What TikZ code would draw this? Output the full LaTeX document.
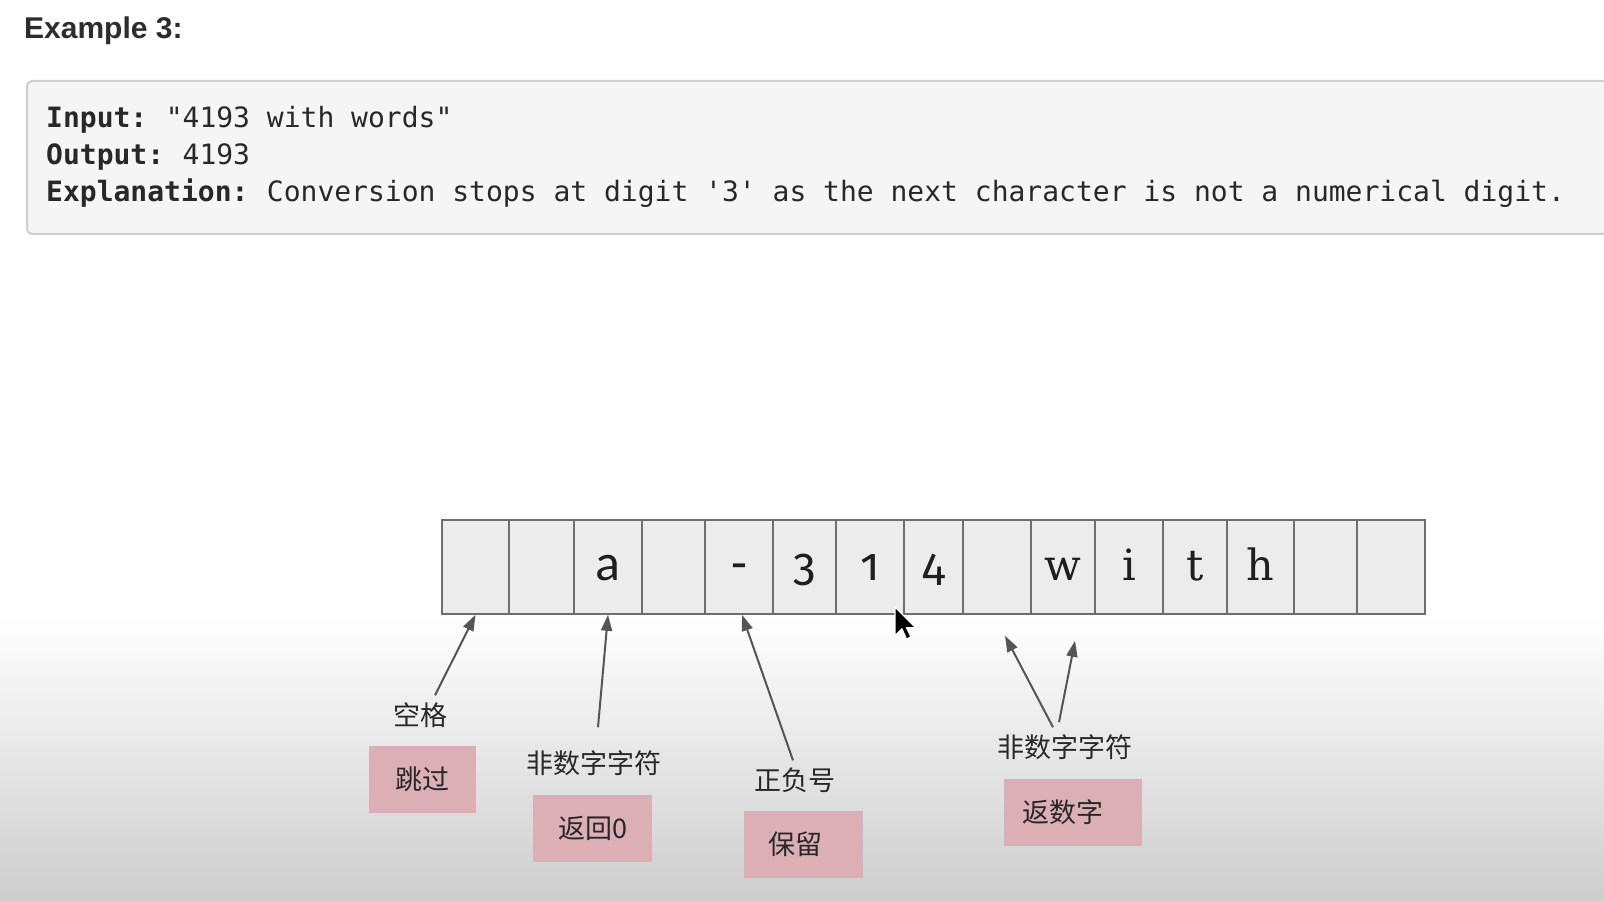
\documentclass[tikz,border=0pt]{standalone}
\usepackage{fontspec}
\newfontfamily\cjk{Noto Sans CJK SC}
\newfontfamily\codefont{DejaVu Sans Mono}
\newfontfamily\titlefont{Liberation Sans}
\newfontfamily\sansfnt{Carlito}
\newfontfamily\digitfont[Numbers=OldStyle]{Fira Sans}
\newfontfamily\slabfont{DejaVu Serif}
\usetikzlibrary{arrows.meta}
\definecolor{pinkbox}{RGB}{220,174,182}
\definecolor{cellfill}{RGB}{236,236,236}
\definecolor{cellline}{RGB}{110,110,110}
\definecolor{arrowgray}{RGB}{85,85,85}
\definecolor{codebg}{RGB}{245,245,245}
\definecolor{codeline}{RGB}{206,206,206}
\definecolor{inkdark}{RGB}{40,40,40}
\newcommand\cellsans[1]{{\sansfnt\fontsize{52}{52}\selectfont #1}}
\newcommand\osn[1]{{\digitfont\fontsize{46}{46}\selectfont #1}}
\newcommand\cellslab[1]{{\slabfont\fontsize{43}{43}\selectfont #1}}
\tikzset{
  cell/.style={draw=cellline, fill=cellfill, line width=1.6pt, minimum height=94pt,
    inner sep=0pt, text height=28pt, text depth=0pt, text=black!88},
  lbl/.style={font=\cjk\fontsize{27}{30}\selectfont, text=inkdark, inner sep=0pt},
  pbox/.style={fill=pinkbox, minimum height=67pt, inner sep=0pt,
    font=\cjk\fontsize{27}{30}\selectfont, text=inkdark},
  arr/.style={draw=arrowgray, line width=2pt, -{Triangle[length=16pt,width=11pt]}},
  codetxt/.style={anchor=base west, inner sep=0pt, text=inkdark,
    font=\codefont\fontsize{28}{30}\selectfont}
}
\begin{document}
\begin{tikzpicture}[x=1pt,y=1pt]
\useasboundingbox (0,0) rectangle (1604,900);
\fill[white] (0,0) rectangle (1604,900);
\shade[top color=white, bottom color={rgb,255:red,205;green,205;blue,205}] (0,0) rectangle (1604,285);
% title
\node[anchor=west, inner sep=0pt, text={rgb,255:red,45;green,45;blue,45},
  font=\titlefont\bfseries\fontsize{30}{32}\selectfont] (title) at (24,869) {Example 3:};
% code block
\node[draw=codeline, fill=codebg, line width=2pt, rounded corners=5pt,
  minimum width=1610pt, minimum height=153pt, anchor=north west, inner sep=0pt] (codebox) at (26,820) {};
\node[codetxt] (l1) at (46,772) {\textbf{Input:}\kern-4pt{} "4193 with words"};
\node[codetxt] (l2) at (46,735) {\textbf{Output:}\kern-4pt{} 4193};
\node[codetxt] (l3) at (46,698) {\textbf{Explanation:}\kern-4pt{} Conversion stops at digit '3' as the next character is not a numerical digit.};
% array cells
\foreach \i/\a/\b/\t in {1/442/509/{},2/509/574/{},3/574/642/\cellsans{a},4/642/705/{},5/705/773/\cellsans{-},
  6/773/836/\osn{3},7/836/904/\osn{1},8/904/963/\osn{4},9/963/1031/{},10/1031/1095/\cellslab{w},
  11/1095/1163/\cellslab{i},12/1163/1227/\cellslab{t},13/1227/1294/\cellslab{h},14/1294/1357/{},15/1357/1425/{}}
  \node[cell, minimum width={(\b-\a)*1pt}] (c\i) at ({(\a+\b)/2},333) {\t};
% labels
\node[lbl] (lab1) at (420,185) {空格};
\node[lbl] (lab2) at (594,137) {非数字字符};
\node[lbl] (lab3) at (795,120) {正负号};
\node[lbl] (lab4) at (1065,153) {非数字字符};
% pink boxes
\node[pbox, minimum width=107pt] (b1) at (422.5,120.5) {跳过};
\node[pbox, minimum width=119pt] (b2) at (592.5,71.5) {返回0};
\node[pbox, minimum width=119pt] (b3) at (803.5,55.5) {保留\kern17pt};
\node[pbox, minimum width=138pt] (b4) at (1073,87.5) {返数字\kern20pt};
% arrows
\draw[arr] ([shift={(15,7)}]lab1.north) -- (c1.south);
\draw[arr] ([shift={(4,23)}]lab2.north) -- (c3.south);
\draw[arr] ([shift={(-2,7)}]lab3.north) -- ([xshift=3pt]c5.south);
\coordinate (t9) at ([shift={(8,-21)}]c9.south);
\coordinate (t10) at ([shift={(12,-26)}]c10.south);
\draw[arr] ([shift={(-12,7)}]lab4.north) -- (t9);
\draw[arr] ([shift={(-6,12)}]lab4.north) -- (t10);
% mouse pointer
\begin{scope}[shift={(895,293)}, yscale=-1, scale=1.15]
  \filldraw[fill=black, draw=white, line width=1.3pt, line join=round]
    (0,0) -- (0,25) -- (6,19) -- (10,28) -- (14,26) -- (10,18) -- (18,18) -- cycle;
\end{scope}
\end{tikzpicture}
\end{document}
